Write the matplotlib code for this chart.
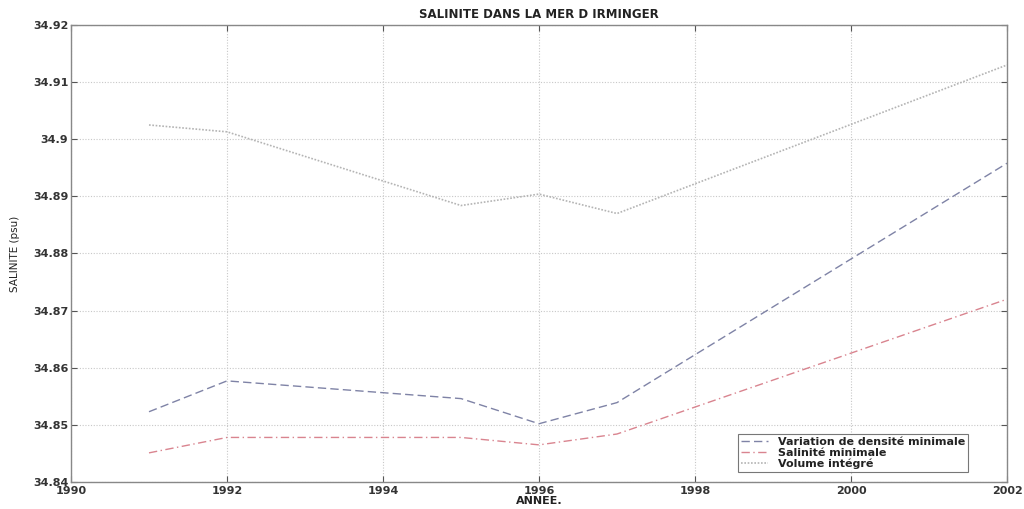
import matplotlib
matplotlib.use("Agg")
import matplotlib.pyplot as plt

plt.rcParams['font.family'] = ['DejaVu Sans']

years_density = [1991, 1992, 1995, 1996, 1997, 2002]
density = [34.8523, 34.8577, 34.8546, 34.8502, 34.8539, 34.8958]

years_salmin = [1991, 1992, 1995, 1996, 1997, 2002]
salmin = [34.8451, 34.8478, 34.8478, 34.8465, 34.8484, 34.8720]

years_volume = [1991, 1992, 1995, 1996, 1997, 2002]
volume = [34.9025, 34.9013, 34.8884, 34.8904, 34.8870, 34.9130]

labels = ["Variation de densité minimale", "Salinité minimale", "Volume intégré"]
xticks = [1990, 1992, 1994, 1996, 1998, 2000, 2002]
yticks = [34.84, 34.85, 34.86, 34.87, 34.88, 34.89, 34.90, 34.91, 34.92]
ytick_labels = ["34.84", "34.85", "34.86", "34.87", "34.88", "34.89", "34.9", "34.91", "34.92"]

fig = plt.figure(figsize=(10.24, 5.09), dpi=100)
ax = fig.add_axes([71/1024, 1 - 482/509, (1007-71)/1024, (482-25)/509])

ax.plot(years_density, density, linestyle=(0, (6, 3)), color='#7f83a6', lw=1.0, label=labels[0])
ax.plot(years_salmin, salmin, linestyle=(0, (6, 2.5, 1, 2.5)), color='#d9848f', lw=1.0, label=labels[1])
ax.plot(years_volume, volume, linestyle=(0, (1, 1)), color='#b4b4b4', lw=1.2, label=labels[2])

ax.set_xlim(1990, 2002)
ax.set_ylim(34.84, 34.92)
ax.set_xticks(xticks)
ax.set_yticks(yticks)
ax.set_yticklabels(ytick_labels)
ax.grid(True, linestyle=(0, (1, 1.5)), color='#c8c8c8', lw=0.8)
ax.tick_params(direction='in', top=True, right=True, length=4, width=0.8,
               color='#555555', labelsize=8)
ax.tick_params(axis='y', pad=2)
ax.tick_params(axis='x', pad=3)
for lab in ax.get_xticklabels() + ax.get_yticklabels():
    lab.set_fontweight('bold')
    lab.set_color('#333333')
for s in ax.spines.values():
    s.set_color('#888888')
    s.set_linewidth(1.0)

ax.set_title("SALINITE DANS LA MER D IRMINGER", fontsize=8.5, fontweight='bold', pad=5, color='#222222')
ax.set_xlabel("ANNEE.", fontsize=8, fontweight='bold', labelpad=0, color='#222222')
ax.set_ylabel("SALINITE (psu)", fontsize=7.5, labelpad=9, color='#222222',
              family=['Liberation Sans Narrow', 'DejaVu Sans'])

leg = ax.legend(loc='lower right', bbox_to_anchor=(0.9605, 0.018), prop={'size': 8, 'weight': 'bold'},
                frameon=True, fancybox=False, edgecolor='#555555', handlelength=2.4,
                borderpad=0.25, labelspacing=0.05, handletextpad=0.9, borderaxespad=0.2)
leg.get_frame().set_linewidth(0.8)
for t in leg.get_texts():
    t.set_color('#222222')

fig.savefig("out.png", dpi=100)
